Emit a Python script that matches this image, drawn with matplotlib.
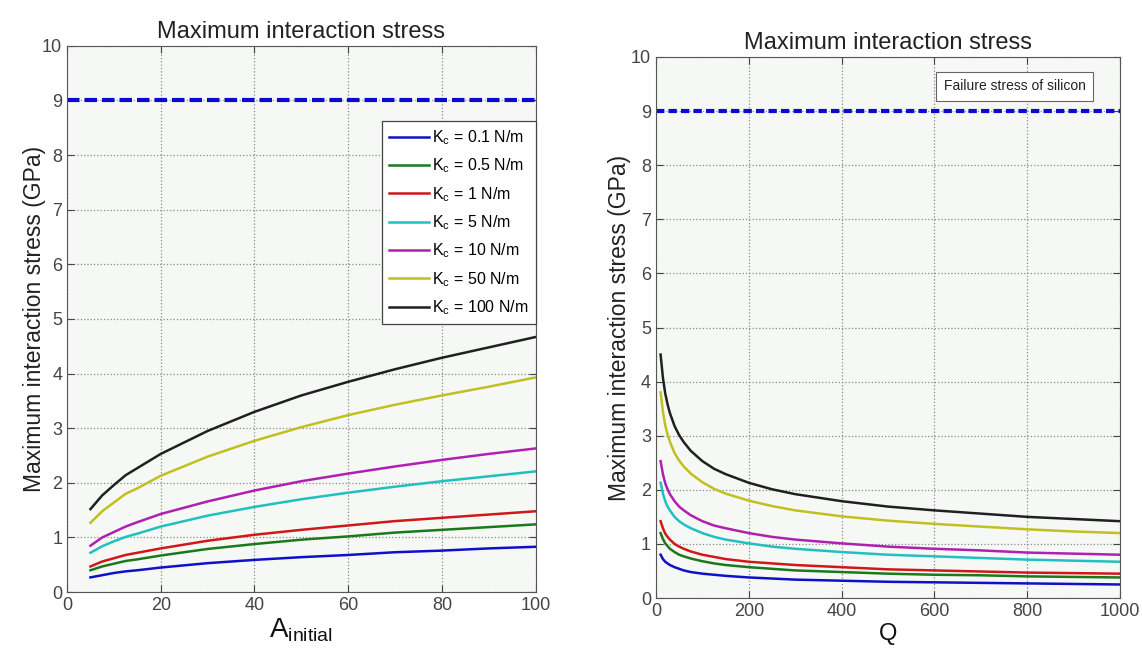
import matplotlib
matplotlib.use('Agg')
import matplotlib.pyplot as plt

plt.rcParams['font.family'] = ['Liberation Sans', 'DejaVu Sans']
plt.rcParams['mathtext.fontset'] = 'custom'
plt.rcParams['mathtext.rm'] = 'Liberation Sans'
plt.rcParams['mathtext.it'] = 'Liberation Sans'

# Left panel: stress vs A_initial
a_initial = [5, 7.5, 10, 12.5, 15, 20, 30, 40, 50, 60, 70, 80, 90, 100]
left_k100 = [1.52, 1.77, 1.96, 2.14, 2.27, 2.53, 2.95, 3.30, 3.60, 3.85, 4.08, 4.29, 4.48, 4.67]
left_k50 = [1.27, 1.48, 1.64, 1.80, 1.90, 2.13, 2.48, 2.77, 3.02, 3.24, 3.43, 3.60, 3.76, 3.93]
left_k10 = [0.85, 1.00, 1.10, 1.20, 1.28, 1.43, 1.66, 1.86, 2.03, 2.17, 2.30, 2.42, 2.53, 2.63]
left_k5 = [0.72, 0.84, 0.93, 1.01, 1.07, 1.20, 1.40, 1.56, 1.70, 1.82, 1.93, 2.03, 2.12, 2.21]
left_k1 = [0.47, 0.56, 0.62, 0.68, 0.72, 0.80, 0.94, 1.05, 1.14, 1.22, 1.30, 1.36, 1.42, 1.48]
left_k05 = [0.40, 0.47, 0.52, 0.57, 0.60, 0.67, 0.79, 0.88, 0.96, 1.02, 1.09, 1.14, 1.19, 1.24]
left_k01 = [0.27, 0.31, 0.35, 0.38, 0.40, 0.45, 0.53, 0.59, 0.64, 0.68, 0.73, 0.76, 0.80, 0.83]

# Right panel: stress vs Q
q_vals = [10, 15, 20, 25, 30, 40, 50, 60, 75, 100, 125, 150, 200, 250, 300,
          400, 500, 600, 700, 800, 900, 1000]
right_k100 = [4.50, 4.07, 3.78, 3.58, 3.42, 3.18, 3.01, 2.88, 2.72, 2.53, 2.39, 2.29, 2.13, 2.01, 1.92,
              1.79, 1.69, 1.62, 1.56, 1.50, 1.46, 1.42]
right_k50 = [3.80, 3.44, 3.19, 3.02, 2.89, 2.68, 2.54, 2.43, 2.30, 2.14, 2.02, 1.93, 1.80, 1.70, 1.62,
             1.51, 1.43, 1.37, 1.32, 1.27, 1.23, 1.20]
right_k10 = [2.53, 2.29, 2.12, 2.01, 1.92, 1.79, 1.69, 1.62, 1.53, 1.42, 1.34, 1.29, 1.20, 1.13, 1.08,
             1.01, 0.95, 0.91, 0.88, 0.84, 0.82, 0.80]
right_k5 = [2.13, 1.93, 1.79, 1.69, 1.62, 1.50, 1.42, 1.36, 1.29, 1.20, 1.13, 1.08, 1.01, 0.95, 0.91,
            0.85, 0.80, 0.77, 0.74, 0.71, 0.69, 0.67]
right_k1 = [1.42, 1.29, 1.19, 1.13, 1.08, 1.00, 0.95, 0.91, 0.86, 0.80, 0.76, 0.72, 0.67, 0.64, 0.61,
            0.57, 0.53, 0.51, 0.49, 0.47, 0.46, 0.45]
right_k05 = [1.20, 1.09, 1.01, 0.96, 0.91, 0.85, 0.80, 0.77, 0.73, 0.68, 0.64, 0.61, 0.57, 0.54, 0.51,
             0.48, 0.45, 0.43, 0.42, 0.40, 0.39, 0.38]
right_k01 = [0.80, 0.72, 0.67, 0.64, 0.61, 0.57, 0.54, 0.51, 0.48, 0.45, 0.43, 0.41, 0.38, 0.36, 0.34,
             0.32, 0.30, 0.29, 0.28, 0.27, 0.26, 0.25]

failure_stress = 9
labels = ['0.1', '0.5', '1', '5', '10', '50', '100']
colors = ['#1010c8', '#1a7a1a', '#d01818', '#20c0c0', '#b020b0', '#c0c020', '#202020']

left_series = [left_k01, left_k05, left_k1, left_k5, left_k10, left_k50, left_k100]
right_series = [right_k01, right_k05, right_k1, right_k5, right_k10, right_k50, right_k100]

fig = plt.figure(figsize=(11.42, 6.55), dpi=100)
ax1 = fig.add_axes([0.0587, 0.096, 0.4103, 0.834])
ax2 = fig.add_axes([0.5744, 0.087, 0.4063, 0.826])


def style(ax):
    ax.set_facecolor('#f6f8f6')
    ax.set_ylim(0, 10)
    ax.set_yticks(range(0, 11))
    ax.grid(True, linestyle=':', color='#8a8a8a', linewidth=0.9)
    ax.tick_params(direction='in', top=True, right=True, labelsize=13,
                   colors='#444444', labelcolor='#444444', length=5)
    for s in ax.spines.values():
        s.set_color('#555555')
    ax.set_title('Maximum interaction stress', fontsize=17, color='#222222', pad=6)


for vals, lab, c in zip(left_series, labels, colors):
    ax1.plot(a_initial, vals, color=c, lw=1.8, label=r'K$_\mathrm{c}$ = ' + lab + ' N/m')
ax1.axhline(failure_stress, color='#0a0ad0', lw=3, linestyle=(0, (3, 1.2)))
ax1.set_xlim(0, 100)
style(ax1)
ax1.set_ylabel('Maximum interaction stress (GPa)', fontsize=16.5, color='#222222', labelpad=-3)
ax1.set_xlabel(r'A$_\mathrm{initial}$', fontsize=20, color='#111111', labelpad=2)
leg = ax1.legend(loc='upper right', bbox_to_anchor=(1.0, 0.862), fontsize=11.5,
                 fancybox=False, framealpha=1, edgecolor='#444444', borderaxespad=0,
                 handlelength=2.5, handletextpad=0.2, borderpad=0.45, labelspacing=0.6)
leg.get_frame().set_linewidth(0.9)

for vals, c in zip(right_series, colors):
    ax2.plot(q_vals, vals, color=c, lw=1.8)
ax2.axhline(failure_stress, color='#0a0ad0', lw=3, linestyle=(0, (2, 1)))
ax2.set_xlim(0, 1000)
style(ax2)
ax2.set_ylabel('Maximum interaction stress (GPa)', fontsize=16.5, color='#222222', labelpad=0)
ax2.set_xlabel('Q', fontsize=17, color='#111111', labelpad=2)
ax2.text(0.62, 0.946, 'Failure stress of silicon', transform=ax2.transAxes,
         fontsize=10, va='center', ha='left', color='#222222',
         bbox=dict(boxstyle='square,pad=0.55', fc='white', ec='#666666', lw=0.8))

fig.savefig('out.png', dpi=100)
